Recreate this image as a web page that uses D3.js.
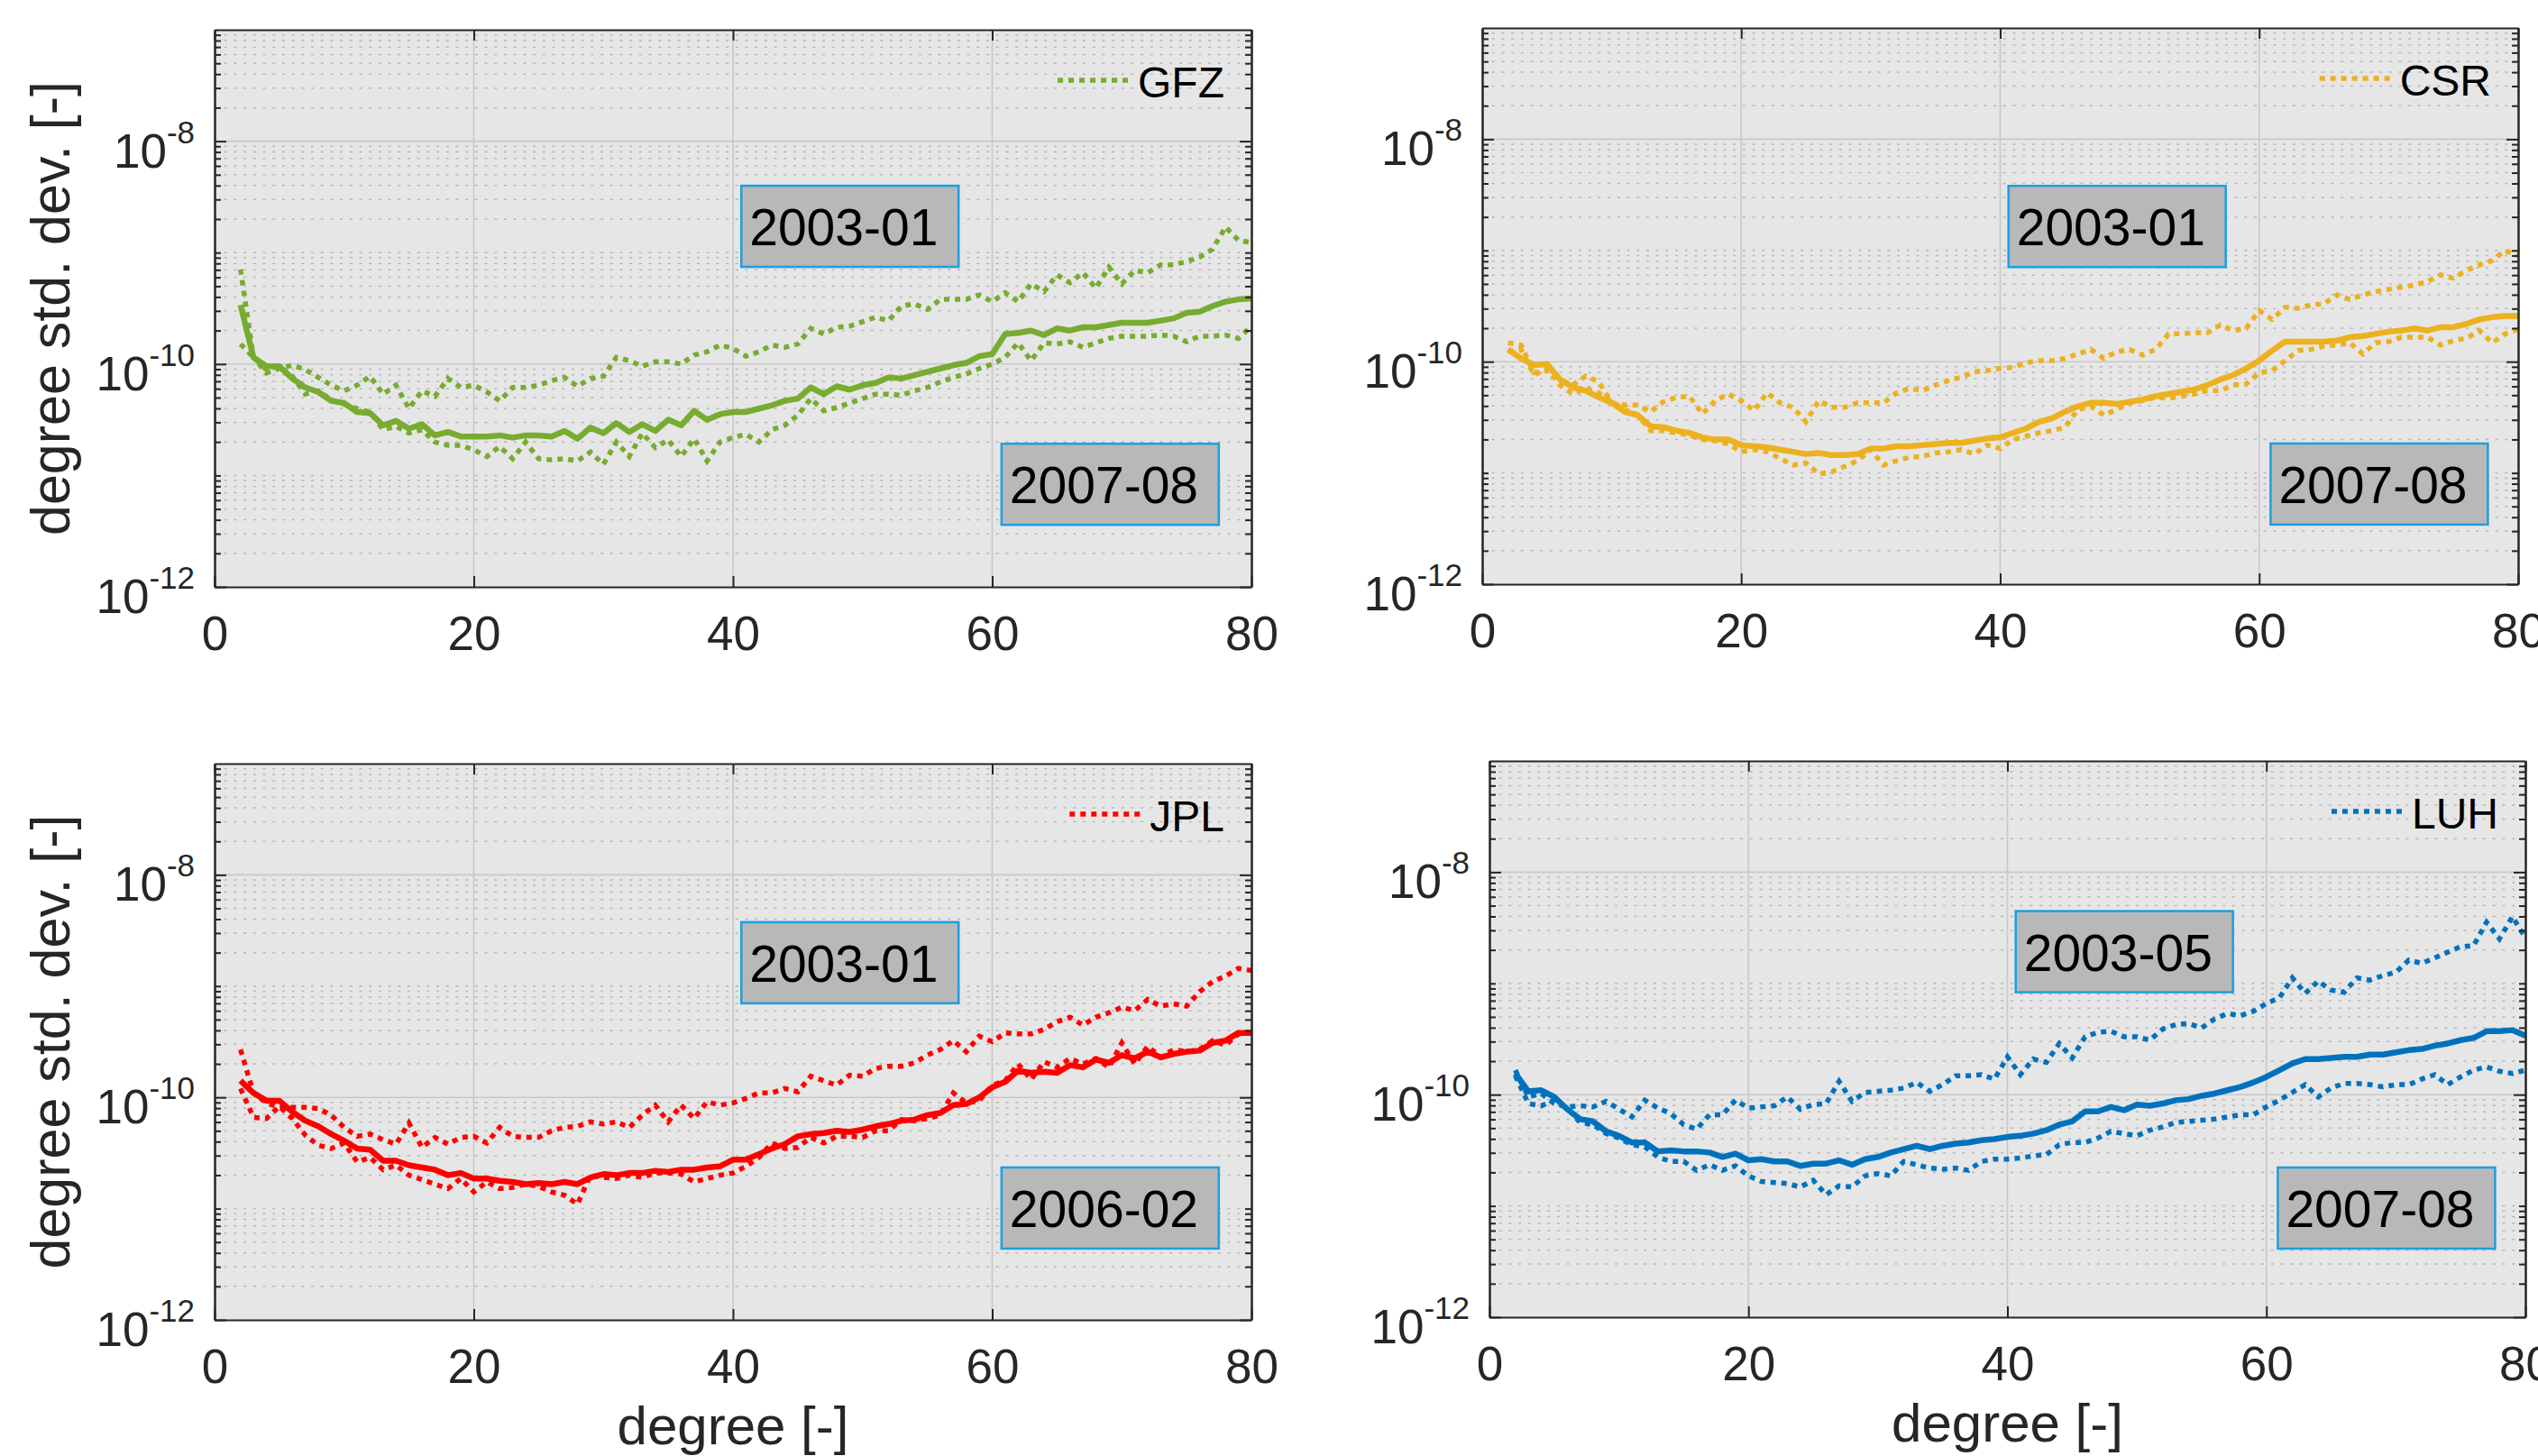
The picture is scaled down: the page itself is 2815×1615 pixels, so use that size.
<!DOCTYPE html>
<html>
<head>
<meta charset="utf-8">
<script src="https://cdn.jsdelivr.net/npm/d3@7"></script>
<style>
  body { margin: 0; background: #fff; }
  text { font-family: "Liberation Sans", Arial, Helvetica, sans-serif; }
</style>
</head>
<body>
<svg id="chart"></svg>
<script>
// spherical harmonic degrees 2..80
const degrees = d3.range(2, 81);

// log10 of degree std. dev. (mean = solid, early/late = dotted)
const gfzMeanLog = [-9.47,-9.94,-10.02,-10.02,-10.13,-10.21,-10.25,-10.33,-10.35,-10.43,
  -10.44,-10.55,-10.51,-10.58,-10.54,-10.64,-10.61,-10.65,-10.65,-10.65,
  -10.64,-10.66,-10.64,-10.64,-10.65,-10.60,-10.67,-10.57,-10.62,-10.53,
  -10.61,-10.54,-10.60,-10.50,-10.55,-10.42,-10.50,-10.45,-10.43,-10.43,
  -10.40,-10.37,-10.33,-10.31,-10.21,-10.27,-10.20,-10.23,-10.19,-10.17,
  -10.12,-10.13,-10.10,-10.07,-10.04,-10.01,-9.99,-9.93,-9.91,-9.73,
  -9.72,-9.70,-9.74,-9.68,-9.70,-9.67,-9.67,-9.65,-9.63,-9.63,
  -9.63,-9.61,-9.59,-9.54,-9.53,-9.48,-9.44,-9.42,-9.41];
const gfzEarlyLog = [-9.15,-9.94,-10.08,-10.04,-10.01,-10.05,-10.12,-10.19,-10.24,-10.19,
  -10.11,-10.27,-10.19,-10.40,-10.24,-10.29,-10.13,-10.21,-10.19,-10.25,
  -10.33,-10.21,-10.21,-10.19,-10.15,-10.12,-10.20,-10.13,-10.11,-9.94,
  -9.97,-10.02,-9.98,-9.98,-10.00,-9.92,-9.89,-9.83,-9.86,-9.93,
  -9.89,-9.83,-9.85,-9.82,-9.68,-9.73,-9.67,-9.66,-9.62,-9.58,
  -9.61,-9.48,-9.46,-9.51,-9.42,-9.42,-9.42,-9.38,-9.44,-9.36,
  -9.44,-9.28,-9.35,-9.20,-9.27,-9.18,-9.32,-9.13,-9.28,-9.16,
  -9.18,-9.11,-9.11,-9.08,-9.04,-8.97,-8.77,-8.89,-8.91];
const gfzLateLog = [-9.82,-9.94,-10.05,-10.02,-10.11,-10.27,-10.24,-10.32,-10.36,-10.40,
  -10.43,-10.59,-10.56,-10.62,-10.59,-10.70,-10.73,-10.73,-10.77,-10.83,
  -10.74,-10.85,-10.70,-10.85,-10.86,-10.85,-10.87,-10.79,-10.90,-10.70,
  -10.83,-10.62,-10.75,-10.68,-10.83,-10.67,-10.87,-10.70,-10.66,-10.63,
  -10.70,-10.59,-10.55,-10.46,-10.31,-10.42,-10.39,-10.35,-10.31,-10.27,
  -10.27,-10.28,-10.24,-10.21,-10.16,-10.12,-10.09,-10.04,-10.00,-9.94,
  -9.81,-9.97,-9.81,-9.82,-9.80,-9.85,-9.81,-9.77,-9.75,-9.75,
  -9.75,-9.74,-9.75,-9.80,-9.75,-9.75,-9.74,-9.77,-9.66];

const csrMeanLog = [-9.89,-9.97,-10.03,-10.02,-10.16,-10.23,-10.26,-10.32,-10.37,-10.45,
  -10.48,-10.58,-10.59,-10.62,-10.64,-10.68,-10.70,-10.70,-10.75,-10.76,
  -10.77,-10.79,-10.81,-10.83,-10.82,-10.84,-10.84,-10.83,-10.78,-10.78,
  -10.76,-10.76,-10.75,-10.74,-10.73,-10.73,-10.71,-10.69,-10.68,-10.64,
  -10.60,-10.54,-10.51,-10.45,-10.40,-10.37,-10.37,-10.38,-10.36,-10.34,
  -10.31,-10.29,-10.27,-10.25,-10.21,-10.16,-10.12,-10.06,-9.99,-9.90,
  -9.82,-9.82,-9.82,-9.82,-9.81,-9.78,-9.77,-9.75,-9.73,-9.72,
  -9.70,-9.72,-9.69,-9.69,-9.66,-9.62,-9.60,-9.59,-9.59];
const csrEarlyLog = [-9.83,-9.85,-10.10,-10.08,-10.16,-10.21,-10.13,-10.18,-10.37,-10.39,
  -10.39,-10.45,-10.36,-10.32,-10.31,-10.47,-10.35,-10.29,-10.35,-10.44,
  -10.28,-10.37,-10.41,-10.54,-10.35,-10.41,-10.41,-10.37,-10.37,-10.37,
  -10.28,-10.24,-10.26,-10.21,-10.17,-10.14,-10.09,-10.08,-10.06,-10.05,
  -10.01,-9.99,-9.99,-9.97,-9.93,-9.89,-9.97,-9.91,-9.89,-9.94,
  -9.89,-9.75,-9.75,-9.74,-9.74,-9.67,-9.72,-9.70,-9.54,-9.62,
  -9.51,-9.52,-9.49,-9.48,-9.40,-9.44,-9.40,-9.37,-9.35,-9.33,
  -9.31,-9.28,-9.22,-9.25,-9.18,-9.13,-9.09,-9.00,-9.05];
const csrLateLog = [-9.91,-9.89,-10.12,-10.06,-10.21,-10.29,-10.24,-10.28,-10.36,-10.43,
  -10.48,-10.62,-10.62,-10.64,-10.66,-10.70,-10.71,-10.74,-10.81,-10.79,
  -10.81,-10.87,-10.93,-10.91,-11.01,-10.99,-10.94,-10.89,-10.79,-10.93,
  -10.89,-10.86,-10.85,-10.82,-10.81,-10.79,-10.83,-10.75,-10.78,-10.70,
  -10.67,-10.64,-10.62,-10.59,-10.43,-10.40,-10.48,-10.43,-10.37,-10.35,
  -10.32,-10.33,-10.31,-10.29,-10.26,-10.26,-10.21,-10.20,-10.10,-10.08,
  -9.99,-9.90,-9.89,-9.86,-9.85,-9.83,-9.93,-9.83,-9.82,-9.78,
  -9.78,-9.78,-9.85,-9.81,-9.79,-9.72,-9.83,-9.75,-9.71];

const jplMeanLog = [-9.85,-9.96,-10.03,-10.03,-10.13,-10.21,-10.26,-10.33,-10.39,-10.46,
  -10.47,-10.57,-10.57,-10.61,-10.63,-10.65,-10.70,-10.68,-10.73,-10.73,
  -10.75,-10.76,-10.78,-10.77,-10.78,-10.76,-10.78,-10.72,-10.69,-10.70,
  -10.68,-10.68,-10.66,-10.67,-10.65,-10.65,-10.63,-10.62,-10.56,-10.56,
  -10.51,-10.46,-10.42,-10.35,-10.33,-10.32,-10.30,-10.31,-10.29,-10.26,
  -10.24,-10.21,-10.20,-10.16,-10.14,-10.07,-10.06,-10.00,-9.91,-9.86,
  -9.76,-9.78,-9.77,-9.78,-9.71,-9.73,-9.66,-9.69,-9.62,-9.65,
  -9.59,-9.64,-9.61,-9.59,-9.58,-9.51,-9.49,-9.42,-9.42];
const jplEarlyLog = [-9.57,-9.96,-10.05,-10.09,-10.09,-10.09,-10.10,-10.16,-10.27,-10.35,
  -10.33,-10.38,-10.42,-10.23,-10.45,-10.36,-10.42,-10.36,-10.35,-10.41,
  -10.27,-10.35,-10.36,-10.36,-10.30,-10.27,-10.26,-10.22,-10.24,-10.22,
  -10.27,-10.16,-10.07,-10.22,-10.07,-10.19,-10.04,-10.07,-10.05,-10.01,
  -9.96,-9.96,-9.92,-9.95,-9.81,-9.85,-9.89,-9.80,-9.81,-9.74,
  -9.72,-9.72,-9.69,-9.62,-9.57,-9.49,-9.59,-9.45,-9.50,-9.42,
  -9.43,-9.43,-9.39,-9.32,-9.28,-9.35,-9.28,-9.24,-9.19,-9.22,
  -9.12,-9.18,-9.16,-9.18,-9.05,-8.96,-8.91,-8.84,-8.86];
const jplLateLog = [-9.92,-10.18,-10.19,-10.08,-10.19,-10.34,-10.43,-10.46,-10.41,-10.58,
  -10.54,-10.65,-10.61,-10.70,-10.74,-10.78,-10.82,-10.73,-10.85,-10.76,
  -10.82,-10.81,-10.78,-10.80,-10.85,-10.88,-10.96,-10.70,-10.72,-10.73,
  -10.70,-10.72,-10.68,-10.68,-10.69,-10.76,-10.73,-10.70,-10.68,-10.62,
  -10.54,-10.41,-10.46,-10.45,-10.36,-10.41,-10.35,-10.35,-10.36,-10.30,
  -10.30,-10.20,-10.21,-10.19,-10.16,-9.96,-10.05,-10.03,-9.89,-9.85,
  -9.70,-9.84,-9.68,-9.73,-9.65,-9.70,-9.65,-9.73,-9.51,-9.70,
  -9.54,-9.64,-9.57,-9.59,-9.57,-9.49,-9.53,-9.43,-9.42];

const luhMeanLog = [-9.81,-9.97,-9.96,-10.02,-10.13,-10.22,-10.24,-10.33,-10.37,-10.43,
  -10.43,-10.51,-10.50,-10.51,-10.51,-10.52,-10.56,-10.53,-10.59,-10.58,
  -10.60,-10.60,-10.64,-10.62,-10.62,-10.59,-10.63,-10.58,-10.56,-10.52,
  -10.49,-10.46,-10.49,-10.46,-10.44,-10.43,-10.41,-10.40,-10.38,-10.37,
  -10.35,-10.32,-10.27,-10.24,-10.15,-10.15,-10.11,-10.14,-10.09,-10.10,
  -10.08,-10.05,-10.04,-10.01,-9.99,-9.96,-9.93,-9.89,-9.84,-9.78,
  -9.72,-9.68,-9.68,-9.67,-9.66,-9.66,-9.64,-9.64,-9.62,-9.60,
  -9.59,-9.56,-9.54,-9.51,-9.49,-9.43,-9.43,-9.42,-9.47];
const luhEarlyLog = [-9.78,-10.02,-9.99,-10.08,-10.11,-10.10,-10.11,-10.06,-10.13,-10.20,
  -10.05,-10.12,-10.17,-10.27,-10.31,-10.18,-10.18,-10.05,-10.12,-10.11,
  -10.10,-10.02,-10.13,-10.09,-10.08,-9.88,-10.06,-9.98,-9.97,-9.96,
  -9.94,-9.89,-9.97,-9.91,-9.83,-9.83,-9.82,-9.86,-9.66,-9.82,
  -9.68,-9.71,-9.54,-9.67,-9.48,-9.44,-9.43,-9.48,-9.48,-9.51,
  -9.41,-9.37,-9.36,-9.40,-9.32,-9.27,-9.29,-9.25,-9.18,-9.13,
  -8.95,-9.09,-8.98,-9.06,-9.08,-8.95,-8.97,-8.93,-8.90,-8.79,
  -8.82,-8.77,-8.72,-8.67,-8.66,-8.45,-8.60,-8.40,-8.59];
const luhLateLog = [-9.83,-10.08,-10.10,-10.05,-10.12,-10.25,-10.27,-10.35,-10.39,-10.45,
  -10.47,-10.56,-10.60,-10.60,-10.68,-10.63,-10.68,-10.64,-10.73,-10.78,
  -10.79,-10.80,-10.83,-10.77,-10.90,-10.82,-10.83,-10.73,-10.71,-10.73,
  -10.60,-10.63,-10.66,-10.67,-10.66,-10.68,-10.60,-10.58,-10.58,-10.57,
  -10.55,-10.54,-10.45,-10.43,-10.43,-10.39,-10.33,-10.35,-10.37,-10.32,
  -10.29,-10.25,-10.24,-10.23,-10.22,-10.20,-10.18,-10.18,-10.11,-10.05,
  -9.98,-9.91,-10.02,-9.94,-9.90,-9.90,-9.91,-9.93,-9.91,-9.91,
  -9.86,-9.82,-9.91,-9.84,-9.78,-9.75,-9.79,-9.81,-9.78];

const centreNames = ["GFZ", "CSR", "JPL", "LUH"];
const centreColors = ["#77AC30", "#EDB120", "#FF0000", "#0072BD"];
const boxLabels = [["2003-01", "2007-08"], ["2003-01", "2007-08"], ["2003-01", "2006-02"], ["2003-05", "2007-08"]];
const xTicks = [0, 20, 40, 60, 80];
const yTicks = [1e-12, 1e-10, 1e-8];
const yTickExp = ["-12", "-10", "-8"];

const seriesLogs = [
  [gfzMeanLog, gfzEarlyLog, gfzLateLog],
  [csrMeanLog, csrEarlyLog, csrLateLog],
  [jplMeanLog, jplEarlyLog, jplLateLog],
  [luhMeanLog, luhEarlyLog, luhLateLog]
];

// panel placement on the page (pixels) and box anchors (fraction of axes)
const layout = [
  {left: 238, top: 33, width: 1150, height: 618, boxes: [[0.508, 0.280], [0.759, 0.743]], ylab: true, xlab: false},
  {left: 1644, top: 31, width: 1149, height: 617, boxes: [[0.508, 0.284], [0.761, 0.747]], ylab: false, xlab: false},
  {left: 238, top: 847, width: 1150, height: 617, boxes: [[0.508, 0.285], [0.759, 0.726]], ylab: true, xlab: true},
  {left: 1652, top: 844, width: 1149, height: 617, boxes: [[0.508, 0.270], [0.761, 0.731]], ylab: false, xlab: true}
];

const axisColor = "#262626";
const dotted = "6,6";

// minor ticks / grid: k*10^n that are not labelled decades
const minorVals = [];
for (let n = -12; n <= -8; n++) {
  for (let k = 1; k <= 9; k++) {
    const v = k * Math.pow(10, n);
    if (k === 1 && n % 2 === 0) continue;
    minorVals.push(v);
  }
}

const svg = d3.select("#chart")
  .attr("width", 2815)
  .attr("height", 1615);

layout.forEach(function(L, i) {
  const w = L.width, h = L.height;
  const color = centreColors[i];

  const x = d3.scaleLinear().domain([0, 80]).range([0, w]);
  const y = d3.scaleLog().domain([1e-12, 1e-7]).range([h, 0]);

  const g = svg.append("g")
    .attr("transform", `translate(${L.left}, ${L.top})`);

  // axes background
  g.append("rect")
    .attr("width", w)
    .attr("height", h)
    .attr("fill", "#e6e6e6");

  // minor grid (dotted, horizontal only)
  g.append("g").selectAll("line")
    .data(minorVals)
    .enter().append("line")
    .attr("x1", 0).attr("x2", w)
    .attr("y1", d => y(d)).attr("y2", d => y(d))
    .attr("stroke", "#b7b7b7")
    .attr("stroke-width", 1.5)
    .attr("stroke-dasharray", "3,7.7");

  // major grid
  g.append("g").selectAll("line")
    .data([20, 40, 60])
    .enter().append("line")
    .attr("x1", d => x(d)).attr("x2", d => x(d))
    .attr("y1", 0).attr("y2", h)
    .attr("stroke", "#c8c8c8")
    .attr("stroke-width", 1.6);
  g.append("g").selectAll("line")
    .data([1e-10, 1e-8])
    .enter().append("line")
    .attr("x1", 0).attr("x2", w)
    .attr("y1", d => y(d)).attr("y2", d => y(d))
    .attr("stroke", "#c8c8c8")
    .attr("stroke-width", 1.6);

  // clip for the data lines
  const clipId = "clip" + i;
  g.append("clipPath").attr("id", clipId)
    .append("rect").attr("width", w).attr("height", h);

  const line = d3.line()
    .x(d => x(d[0]))
    .y(d => y(d[1]));

  const logs = seriesLogs[i];
  const lines = g.append("g").attr("clip-path", `url(#${clipId})`);
  // dotted monthly curves, then the solid one on top
  [logs[1], logs[2]].forEach(function(arr) {
    lines.append("path")
      .datum(degrees.map((n, j) => [n, Math.pow(10, arr[j])]))
      .attr("d", line)
      .attr("fill", "none")
      .attr("stroke", color)
      .attr("stroke-width", 5.5)
      .attr("stroke-dasharray", dotted);
  });
  lines.append("path")
    .datum(degrees.map((n, j) => [n, Math.pow(10, logs[0][j])]))
    .attr("d", line)
    .attr("fill", "none")
    .attr("stroke", color)
    .attr("stroke-width", 6.5)
    .attr("stroke-linejoin", "round");

  // month boxes
  L.boxes.forEach(function(b, j) {
    const bx = b[0] * w, by = b[1] * h;
    g.append("rect")
      .attr("x", bx).attr("y", by)
      .attr("width", 241).attr("height", 90)
      .attr("fill", "#b8b8b8")
      .attr("stroke", "#1c9fe0")
      .attr("stroke-width", 2.5);
    g.append("text")
      .attr("x", bx + 9)
      .attr("y", by + 66)
      .attr("font-size", 57)
      .attr("fill", "#000")
      .text(boxLabels[i][j]);
  });

  // legend (dotted sample + centre name)
  const legText = g.append("text")
    .attr("x", w - 30)
    .attr("y", 75)
    .attr("text-anchor", "end")
    .attr("font-size", 48)
    .attr("fill", "#000")
    .text(centreNames[i]);
  const tw = legText.node().getComputedTextLength();
  const tx = w - 30 - tw;
  g.append("line")
    .attr("x1", tx - 89).attr("x2", tx - 8)
    .attr("y1", 56).attr("y2", 56)
    .attr("stroke", color)
    .attr("stroke-width", 5.5)
    .attr("stroke-dasharray", dotted);

  // axes
  const styleAxis = sel => {
    sel.select(".domain").attr("stroke", axisColor).attr("stroke-width", 2);
    sel.selectAll(".tick line").attr("stroke", axisColor).attr("stroke-width", 2);
  };

  const xBottom = g.append("g")
    .attr("transform", `translate(0, ${h})`)
    .call(d3.axisBottom(x).tickValues(xTicks).tickSizeInner(-12).tickSizeOuter(0).tickPadding(32));
  xBottom.call(styleAxis);
  xBottom.selectAll("text")
    .attr("font-size", 53)
    .attr("font-family", "Liberation Sans, Arial, sans-serif")
    .attr("fill", axisColor);

  g.append("g")
    .call(d3.axisTop(x).tickValues(xTicks).tickSizeInner(-12).tickSizeOuter(0).tickFormat(""))
    .call(styleAxis);

  g.append("g")
    .call(d3.axisLeft(y).tickValues(minorVals).tickSizeInner(-7).tickSizeOuter(0).tickFormat(""))
    .call(styleAxis);
  g.append("g")
    .call(d3.axisLeft(y).tickValues(yTicks).tickSizeInner(-13).tickSizeOuter(0).tickFormat(""))
    .call(styleAxis);
  g.append("g")
    .attr("transform", `translate(${w}, 0)`)
    .call(d3.axisRight(y).tickValues(minorVals).tickSizeInner(-7).tickSizeOuter(0).tickFormat(""))
    .call(styleAxis);
  g.append("g")
    .attr("transform", `translate(${w}, 0)`)
    .call(d3.axisRight(y).tickValues(yTicks).tickSizeInner(-13).tickSizeOuter(0).tickFormat(""))
    .call(styleAxis);

  // y tick labels as 10^n
  yTicks.forEach(function(v, k) {
    const t = g.append("text")
      .attr("x", -22)
      .attr("y", y(v) + 29)
      .attr("text-anchor", "end")
      .attr("font-size", 53)
      .attr("fill", axisColor);
    t.append("tspan").text("10");
    t.append("tspan")
      .attr("font-size", 35)
      .attr("dy", -27)
      .text(yTickExp[k]);
  });

  if (L.ylab) {
    g.append("text")
      .attr("transform", "rotate(-90)")
      .attr("x", -h / 2)
      .attr("y", 77 - L.left)
      .attr("text-anchor", "middle")
      .attr("font-size", 61)
      .attr("fill", axisColor)
      .text("degree std. dev. [-]");
  }
  if (L.xlab) {
    g.append("text")
      .attr("x", w / 2)
      .attr("y", h + 138)
      .attr("text-anchor", "middle")
      .attr("font-size", 60)
      .attr("fill", axisColor)
      .text("degree [-]");
  }
});
</script>
</body>
</html>
